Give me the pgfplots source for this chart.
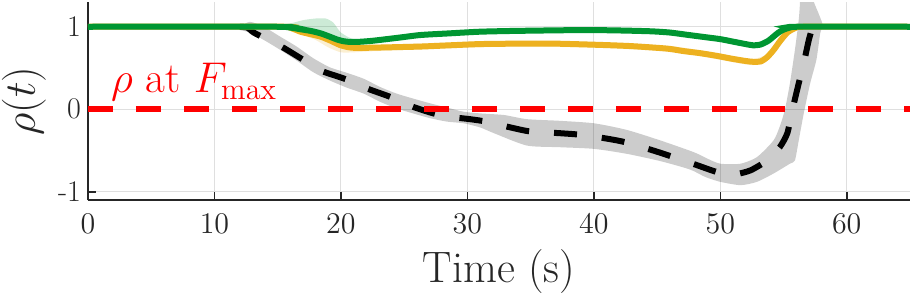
\RequirePackage{fix-cm}
\documentclass[border=0pt]{standalone}
\usepackage{pgfplots}
\pgfplotsset{compat=1.18}
\definecolor{axiscol}{RGB}{38,38,38}
\definecolor{mgreen}{RGB}{0,150,50}
\definecolor{morange}{RGB}{237,177,32}
\begin{document}
\begin{tikzpicture}
\useasboundingbox (-44pt,-48pt) rectangle (413.5pt,100pt);
\begin{axis}[
  at={(0,0)}, anchor=south west,
  scale only axis, width=411pt, height=99pt,
  xmin=0, xmax=65, ymin=-1.1, ymax=1.3,
  axis x line=bottom, axis y line=left,
  axis line style={-, line width=0.8pt, color=axiscol},
  xtick={0,10,20,30,40,50,60},
  ytick={-1,0,1}, yticklabels={-1,0,1},
  tick align=inside, major tick length=4pt,
  tick style={line width=0.8pt, color=axiscol},
  grid=major, grid style={line width=0.5pt, color=gray!25},
  ticklabel style={font=\fontsize{15}{18}\selectfont, text=axiscol},
  xticklabel shift=3.5pt,
  xlabel={Time (s)}, ylabel={$\rho(t)$},
  label style={font=\fontsize{22}{26}\selectfont, text=axiscol},
  xlabel style={at={(axis description cs:0.5,-0.419)}, anchor=base},
  ylabel style={at={(axis description cs:-0.0645,0.5)}, anchor=base},
]
% grey band
\addplot[draw=none, fill=black, fill opacity=0.2, smooth, tension=0.4, forget plot] coordinates {
(12,1.0) (12.8,1.06) (13.9,1.0) (15.2,0.88) (16.5,0.76) (17.8,0.62) (19.1,0.51) (20.5,0.44) (21.8,0.37) (23.1,0.27) (24.4,0.19) (25.7,0.13) (27.1,0.07) (28.4,0.02) (29.7,-0.03) (31,-0.05) (32.9,-0.07) (34.7,-0.12) (37.3,-0.14) (40,-0.17) (42.6,-0.25) (45.3,-0.38) (47.9,-0.52) (49,-0.60) (50,-0.66) (51.6,-0.66) (52.9,-0.58) (54.2,-0.38) (54.7,-0.21) (55.1,-0.01) (55.5,0.31) (55.9,0.72) (56.2,1.08) (56.3,1.28) (56.35,1.4)
(57.3,1.4) (57.4,1.3) (57.8,1.15) (58.1,1.02) (57.9,0.92) (57.6,0.6) (57.1,0.31) (56.6,-0.05) (56.2,-0.38) (55.9,-0.62) (55.5,-0.66) (54.2,-0.78) (52.9,-0.88) (51.6,-0.92) (50,-0.88) (48.8,-0.82) (47.6,-0.73) (45.3,-0.63) (42.6,-0.54) (40,-0.48) (37.3,-0.46) (34.7,-0.44) (32.1,-0.29) (31,-0.22) (29.7,-0.17) (28.4,-0.15) (27.1,-0.11) (25.7,-0.05) (24.4,0.01) (23.1,0.09) (21.8,0.19) (20.5,0.26) (19.1,0.35) (17.8,0.45) (16.5,0.59) (15.2,0.72) (13.9,0.84) (12.8,0.93) (12,0.96)
};
% black dashed mean
\addplot[black, line width=3pt, dash pattern=on 11.5pt off 12.5pt, smooth, tension=0.4] coordinates {
(12,1.0) (12.6,0.99) (13.1,0.93) (14,0.86) (15.4,0.75) (16.8,0.62) (18.4,0.47) (19.9,0.39) (21,0.33) (22.1,0.25) (23.9,0.15) (25.7,0.03) (27.3,-0.05) (28.5,-0.09) (30.2,-0.12) (31.5,-0.15) (33.4,-0.22) (35,-0.27) (37.3,-0.29) (39,-0.31) (41,-0.355) (42.5,-0.40) (44.7,-0.50) (46.5,-0.59) (48.2,-0.68) (49.5,-0.75) (50.5,-0.79) (51.2,-0.79) (52.4,-0.74) (53.7,-0.62) (54.7,-0.46) (55.3,-0.29) (55.7,-0.01) (56.1,0.25) (56.6,0.56) (57,0.84) (57.3,1.0)
};
% orange band
\addplot[draw=none, fill=morange, fill opacity=0.2, smooth, tension=0.4] coordinates {
(15,1.01) (16.3,1.0) (17.6,0.95) (18.4,0.91) (19.9,0.81) (21,0.78) (23.6,0.785) (28.6,0.81) (33.9,0.83) (40.5,0.81) (45.8,0.77) (48.4,0.715) (51,0.645) (52.6,0.61) (53.7,0.67) (54.6,0.84) (55.6,0.99) (56.5,1.02)
(56.5,0.98) (55.6,0.93) (54.6,0.76) (53.7,0.59) (52.6,0.535) (51,0.57) (48.4,0.645) (45.8,0.70) (40.5,0.745) (33.9,0.76) (28.6,0.74) (23.6,0.71) (22,0.70) (21,0.69) (20,0.69) (19,0.75) (18,0.84) (17,0.90) (16,0.96) (15,0.99)
};
% orange line
\addplot[morange, line width=3pt, smooth, tension=0.4] coordinates {
(0,1) (15.5,1) (16.3,0.97) (16.8,0.94) (17.6,0.91) (18.4,0.88) (19.2,0.83) (19.9,0.78) (20.5,0.755) (21,0.745) (22,0.745) (23.6,0.75) (26.3,0.76) (28.6,0.775) (31,0.79) (33.9,0.795) (37,0.795) (40.5,0.78) (43,0.765) (45.8,0.735) (47.1,0.705) (48.4,0.68) (49.8,0.645) (51,0.61) (52,0.585) (52.6,0.575) (53.2,0.58) (53.7,0.63) (54.2,0.715) (54.6,0.80) (54.9,0.86) (55.3,0.93) (55.6,0.96) (56,0.99) (56.5,1) (65,1)
};
% green band
\addplot[draw=none, fill=mgreen, fill opacity=0.2, smooth, tension=0.4] coordinates {
(14,1.02) (15,1.02) (16,1.04) (17,1.08) (18,1.10) (18.8,1.10) (19.4,1.05) (20,0.93) (21,0.85) (22.5,0.86) (24.7,0.90) (28.6,0.95) (33.9,0.975) (39.2,0.985) (44.5,0.97) (47.5,0.93) (50,0.875) (52.6,0.80) (53.8,0.86) (55,0.99) (56,1.02)
(56,0.98) (55,0.94) (53.8,0.80) (52.6,0.75) (50,0.825) (47.5,0.87) (44.5,0.92) (39.2,0.935) (33.9,0.925) (28.6,0.895) (24.7,0.845) (22.5,0.80) (21,0.79) (20,0.80) (19.2,0.84) (18.4,0.89) (17,0.94) (16,0.97) (15,0.98) (14,0.98)
};
% green line
\addplot[mgreen, line width=3pt, smooth, tension=0.4] coordinates {
(0,1) (15,1) (16,0.99) (16.8,0.97) (17.6,0.95) (18.4,0.92) (19.2,0.875) (19.7,0.845) (20.2,0.825) (20.7,0.816) (21.5,0.818) (22.5,0.83) (24.7,0.87) (26.3,0.90) (28.6,0.92) (31,0.94) (33.9,0.95) (39.2,0.96) (42,0.955) (44.5,0.945) (46,0.93) (47.5,0.90) (49,0.87) (50,0.85) (51,0.82) (52,0.79) (52.6,0.775) (53.2,0.785) (53.8,0.83) (54.2,0.88) (54.6,0.93) (55,0.965) (55.5,0.99) (56,1) (65,1)
};
% red dashed line
\addplot[red, line width=3pt, dash pattern=on 12.5pt off 11.5pt] coordinates {(0,0) (65,0)};
\node[anchor=base west, text=red, font=\fontsize{21.5}{25}\selectfont, inner sep=0pt] at (axis cs:1.8,0.2) {$\rho$ at $F_{\max}$};
\end{axis}
\end{tikzpicture}
\end{document}
